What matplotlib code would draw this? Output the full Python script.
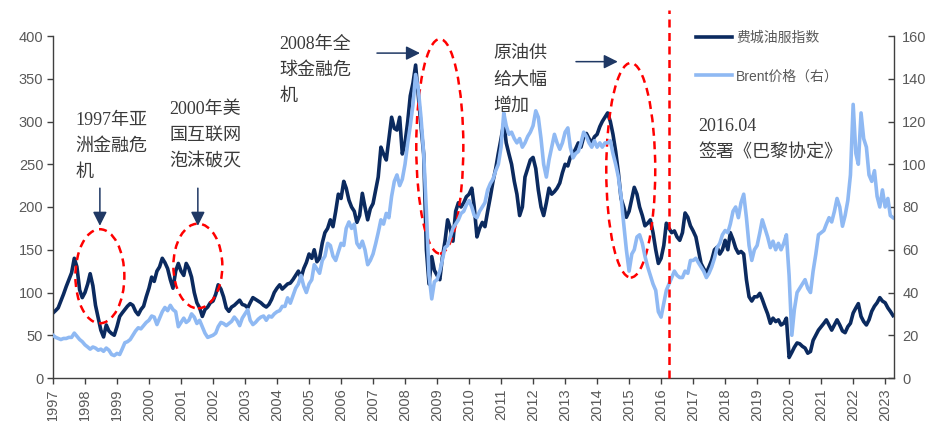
import numpy as np
import pandas as pd
import matplotlib
matplotlib.use('Agg')
import matplotlib.pyplot as plt
import matplotlib.dates as mdates
from matplotlib.patches import Ellipse

# 月度数据：费城油服指数（左轴）与 Brent 油价（右轴，美元/桶）
osx = [76, 79, 82, 90, 98, 107, 115, 123, 140, 130, 103, 94,
       100, 110, 122, 108, 85, 70, 56, 48, 62, 55, 52, 50,
       60, 72, 76, 80, 84, 87, 85, 78, 74, 80, 84, 95,
       105, 118, 113, 125, 130, 140, 135, 128, 115, 105, 125, 134,
       125, 120, 134, 128, 118, 100, 88, 82, 72, 80, 83, 88,
       90, 98, 109, 104, 95, 82, 78, 83, 85, 88, 91, 86,
       85, 82, 88, 94, 92, 90, 88, 85, 83, 86, 92, 100,
       105, 109, 104, 107, 110, 111, 115, 120, 125, 117, 128, 135,
       145, 140, 150, 136, 140, 158, 170, 175, 185, 177, 195, 215,
       210, 230, 222, 208, 200, 195, 182, 190, 216, 200, 185, 198,
       204, 220, 235, 270, 262, 255, 280, 305, 292, 290, 305, 262,
       275, 300, 330, 345, 366, 330, 295, 262, 150, 110, 142, 126,
       120, 115, 140, 160, 185, 175, 160, 195, 205, 200, 205, 212,
       215, 222, 200, 165, 175, 182, 177, 195, 212, 230, 245, 263,
       280, 298, 275, 262, 250, 230, 215, 190, 200, 235, 245, 255,
       258, 245, 220, 200, 190, 205, 222, 215, 218, 222, 228, 240,
       250, 248, 258, 262, 268, 275, 270, 282, 286, 280, 275, 282,
       285, 294, 300, 305, 310, 300, 285, 265, 240, 210, 200, 188,
       195, 210, 223, 215, 200, 190, 178, 181, 185, 170, 150, 134,
       140, 155, 181, 175, 170, 172, 165, 161, 170, 193, 188, 178,
       172, 165, 150, 134, 128, 123, 130, 138, 150, 153, 145, 150,
       161, 150, 170, 162, 152, 146, 148, 145, 115, 95, 90, 95,
       95, 99, 92, 83, 75, 64, 70, 66, 68, 62, 64, 70,
       24, 30, 36, 41, 40, 37, 35, 29, 31, 44, 50, 56,
       60, 64, 68, 62, 56, 62, 68, 62, 55, 53, 60, 64,
       76, 82, 87, 72, 66, 62, 68, 78, 84, 88, 94, 90,
       88, 82, 78, 73]

brent = [20, 19, 18.5, 18, 18.5, 18.5, 19, 19, 21, 19.5, 18, 17,
         15.5, 14.5, 13.5, 14.5, 14, 13, 13.5, 12.5, 14, 13, 11, 10.5,
         11.5, 11, 13.5, 16.5, 17, 18, 20, 22, 23.5, 23, 24.5, 26,
         27, 29, 28.5, 25, 28, 31, 33, 31.5, 34, 32, 31, 24,
         26, 28, 26, 27, 30, 28.5, 25.5, 27, 24, 21, 19, 19.5,
         20, 21, 24, 26, 25.5, 24.5, 25.5, 26.5, 28.5, 27, 24.5, 28,
         30, 32, 27, 25, 26, 27.5, 28.5, 29, 27, 29, 28.5, 30,
         31, 31.5, 33.5, 33.5, 37.5, 35, 38.5, 42, 44, 48, 43, 40,
         44, 46, 53, 51, 49, 55, 57, 63, 62, 57, 55, 59,
         63, 62, 70, 73, 70, 72, 63, 61, 64, 60, 53, 55,
         58, 63, 68, 74, 72, 77, 75, 85, 92, 95, 90, 93,
         100, 110, 118, 128, 142, 135, 122, 105, 78, 48, 37, 45,
         46, 50, 55, 61, 62, 66, 70, 72, 74, 77, 78, 81,
         83, 80, 76, 75, 78, 80, 82, 88, 91, 93, 97, 100,
         108, 124, 118, 114, 115, 112, 110, 112, 108, 110, 113, 115,
         118, 125, 122, 112, 100, 94, 102, 108, 114, 110, 107, 110,
         115, 117, 108, 103, 105, 106, 110, 115, 113, 110, 108, 111,
         108, 110, 108, 110, 110, 111, 105, 100, 94, 85, 72, 60,
         50, 58, 60, 66, 67, 63, 57, 52, 48, 44, 41, 31,
         28.5, 35, 41, 44, 47, 50, 48, 47, 47, 50, 49, 55,
         55, 56, 54, 52, 50, 47, 49, 52, 56, 61, 63, 67,
         69, 68, 72, 78, 80, 75, 82, 86, 75, 62, 55, 60,
         62, 68, 74, 70, 66, 61, 64, 60, 63, 60, 63, 67,
         48, 20, 32, 40, 42, 44, 46, 42, 40, 50, 58, 67,
         68, 69, 72, 75, 73, 78, 84, 80, 71, 76, 83, 95,
         128, 105, 100, 124, 112, 108, 95, 92, 97, 85, 80, 88,
         80, 84, 76, 75]

dates = pd.date_range('1997-01-01', periods=len(osx), freq='MS')

# 事件标注：文字、位置（左轴刻度）
events = [
    ('1997年亚\n洲金融危\n机', '1997-09-10', 311),
    ('2000年美\n国互联网\n泡沫破灭', '2000-08-25', 324),
    ('2008年全\n球金融危\n机', '2004-02-01', 400),
    ('原油供\n给大幅\n增加', '2010-10-01', 389),
    ('2016.04\n签署《巴黎协定》', '2017-03-01', 304),
]
circles = [  # 中心日期, 中心值, 宽(年), 高
    ('1998-06-20', 119, 1.53, 110),
    ('2001-07-12', 131, 1.53, 99),
    ('2009-02-01', 271, 1.47, 251),
    ('2015-01-20', 243, 1.53, 251),
]
arrows = [  # 起点, 终点
    (('1998-06-20', 222), ('1998-06-20', 178)),
    (('2001-07-12', 222), ('2001-07-12', 178)),
    (('2007-02-15', 380), ('2008-06-20', 380)),
    (('2013-05-05', 370), ('2014-08-25', 370)),
]

navy = '#0B2A5F'
light = '#8FB9F3'
grey = '#595959'
txt = '#3A3A3A'

plt.rcParams['font.family'] = ['Liberation Sans', 'Noto Sans CJK SC']
ann_font = ['Liberation Serif', 'Noto Sans CJK SC']

fig = plt.figure(figsize=(9.38, 4.21), dpi=100)
ax = fig.add_axes([53/938, 1-378/421, (894-53)/938, (378-36)/421])
ax2 = ax.twinx()

l1, = ax.plot(dates, osx, color=navy, lw=2.6, label='费城油服指数')
l2, = ax2.plot(dates, brent, color=light, lw=2.6, label='Brent价格（右）')

ax.set_ylim(0, 400)
ax2.set_ylim(0, 160)
ax.set_yticks(np.arange(0, 401, 50))
ax2.set_yticks(np.arange(0, 161, 20))
ax.set_xlim(pd.Timestamp('1997-01-01'), pd.Timestamp('2023-04-12'))
ax.xaxis.set_major_locator(mdates.YearLocator())
ax.xaxis.set_major_formatter(mdates.DateFormatter('%Y'))
for lab in ax.get_xticklabels():
    lab.set_rotation(90)

for a in (ax, ax2):
    a.spines['top'].set_visible(False)
    for s in a.spines.values():
        s.set_color('#404040')
        s.set_linewidth(1)
ax2.spines['left'].set_visible(False)
ax2.spines['bottom'].set_visible(False)
ax.spines['right'].set_visible(False)

ax.tick_params(axis='both', direction='out', length=4, width=1, colors='#404040',
               labelcolor=grey, labelsize=10.5)
ax.tick_params(axis='y', pad=3)
ax2.tick_params(axis='y', direction='in', length=4, width=1, colors='#404040',
                labelcolor=grey, labelsize=10.5, pad=6)

# 2016.04 巴黎协定
ax2.axvline(pd.Timestamp('2016-04-01'), ymin=0, ymax=430/400, clip_on=False,
            color='#FF0000', lw=1.8, ls=(0, (3.2, 2.2)))

for s, d, y in events:
    ax2.text(mdates.date2num(pd.Timestamp(d)), y, s, transform=ax.transData,
             family=ann_font, fontsize=13, fontweight='light', color=txt,
             va='top', ha='left', linespacing=1.7)

for d, y, w, h in circles:
    ax2.add_patch(Ellipse((mdates.date2num(pd.Timestamp(d)), y), w*365.25, h,
                          transform=ax.transData, fill=False, ec='#FF0000',
                          lw=1.8, ls=(0, (3.2, 2.2)), clip_on=False))

for (d0, y0), (d1, y1) in arrows:
    ax2.annotate('', xy=(mdates.date2num(pd.Timestamp(d1)), y1),
                 xytext=(mdates.date2num(pd.Timestamp(d0)), y0),
                 xycoords=ax.transData, textcoords=ax.transData,
                 arrowprops=dict(arrowstyle='-|>,head_length=0.7,head_width=0.35',
                                 color='#1F3864', lw=1.1, mutation_scale=12,
                                 shrinkA=0, shrinkB=0))

fig.legend([l1, l2], [l1.get_label(), l2.get_label()], loc='upper left',
           bbox_to_anchor=(696/938, 1-31/421), frameon=False,
           prop={'size': 10, 'weight': 'light'},
           labelcolor=grey, handlelength=2.6, handletextpad=0.3,
           labelspacing=1.75, borderpad=0, borderaxespad=0)

fig.savefig('out.png', dpi=100)
